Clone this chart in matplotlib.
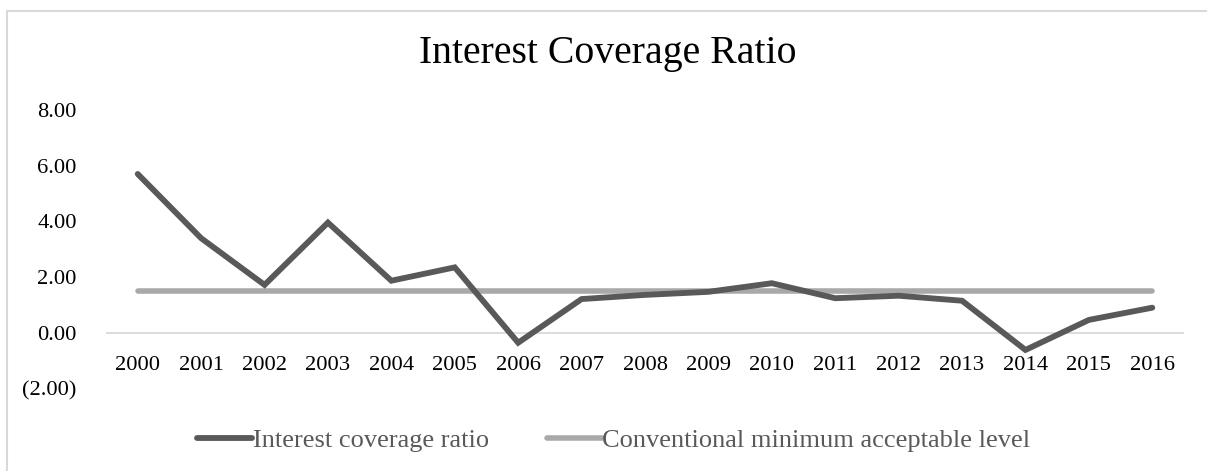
import matplotlib
matplotlib.use("Agg")
import matplotlib.pyplot as plt
from matplotlib.patches import Rectangle

# Data
years = [str(y) for y in range(2000, 2017)]
coverage = [5.71, 3.40, 1.72, 3.96, 1.87, 2.35, -0.36, 1.21, 1.36, 1.47,
            1.78, 1.24, 1.33, 1.15, -0.62, 0.46, 0.90]
minimum_level = [1.5] * len(years)
y_ticks = [-2, 0, 2, 4, 6, 8]

plt.rcParams["font.family"] = ["Liberation Serif", "DejaVu Serif"]

W, H = 1207, 471
fig = plt.figure(figsize=(W / 100, H / 100), dpi=100)
ax = fig.add_axes([106 / W, 1 - 388.3 / H, 1078 / W, 278 / H])

x = list(range(len(years)))
ax.plot(x, coverage, color="#595959", linewidth=4.2, solid_capstyle="round",
        solid_joinstyle="miter", label="Interest coverage ratio", zorder=3)
ax.plot(x, minimum_level, color="#A9A9A9", linewidth=4.0, solid_capstyle="round",
        label="Conventional minimum acceptable level", zorder=2)

ax.set_xlim(-0.5, len(years) - 0.5)
ax.set_ylim(-2, 8)
ax.set_yticks(y_ticks)
ax.set_yticklabels(["(2.00)" if v < 0 else f"{v:.2f}" for v in y_ticks])
ax.set_xticks(x)
ax.set_xticklabels(years)

ax.axhline(0, color="#D9D9D9", linewidth=1.3, zorder=1)
# category labels hang under the zero line
ax.spines["bottom"].set_position(("data", 0))
for s in ax.spines.values():
    s.set_visible(False)
ax.tick_params(axis="both", length=0, labelsize=16.2, colors="#000000")
ax.tick_params(axis="y", pad=21)
ax.tick_params(axis="x", pad=17)

fig.text(608 / W, 1 - 54 / H, "Interest Coverage Ratio", ha="center", va="center",
         fontsize=28.6, color="#000000")

leg = fig.legend(loc="center", bbox_to_anchor=(614 / W, 1 - 440 / H), ncol=2, frameon=False,
                 fontsize=19, handlelength=2.08, handletextpad=0.02, columnspacing=2.2)
for t in leg.get_texts():
    t.set_color("#595959")

# chart area border (runs off the right and bottom edges, as in the reference)
fig.patches.append(Rectangle((7 / W, -0.05), 1.2, 1 - 11 / H + 0.05, transform=fig.transFigure,
                             fill=False, edgecolor="#D9D9D9", linewidth=1.5))

fig.savefig("out.png", dpi=100)
